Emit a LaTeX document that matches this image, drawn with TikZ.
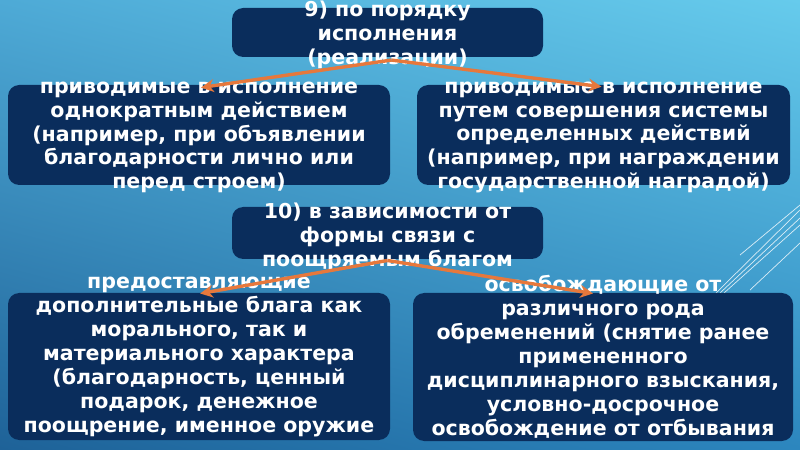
\documentclass[tikz,border=0pt]{standalone}
\usepackage{fontspec}
\setmainfont{DejaVu Sans}
\usepackage{tikz}
\usetikzlibrary{arrows.meta, positioning, calc, shadings}
\usepackage{xcolor}
\definecolor{bgtl}{RGB}{78,170,214}
\definecolor{bgtr}{RGB}{102,203,236}
\definecolor{bgbl}{RGB}{30,98,152}
\definecolor{bgbr}{RGB}{44,134,190}
\definecolor{boxcolor}{RGB}{10,45,92}
\definecolor{arrowcolor}{RGB}{230,120,60}
\tikzset{
    box/.style={
        rectangle, fill=boxcolor, rounded corners=8pt, inner sep=0pt
    },
    boxtext/.style={
        align=center, text=white, inner sep=0pt,
        font=\bfseries\fontsize{14.6}{17}\selectfont
    },
    arrow/.style={-{Stealth[length=3.2mm, width=3.2mm]}, line width=2.4pt, arrowcolor},
    deco/.style={white, opacity=0.8, line width=0.5pt}
}

\begin{document}
\begin{tikzpicture}

% Background
\useasboundingbox (0,0) rectangle (20,11.225);
\shade[upper left=bgtl, upper right=bgtr, lower left=bgbl, lower right=bgbr]
    (0,0) rectangle (20,11.225);

% Decorative lines
\draw[deco] (18.5,4.85) -- (20,6.1);
\draw[deco] (17.9,3.9) -- (20,5.975);
\draw[deco] (18.0,3.9) -- (20,5.775);
\draw[deco] (18.1,3.9) -- (20,5.6);
\draw[deco] (18.75,3.975) -- (20,5.15);

% Boxes
\node[box, minimum width=7.775cm, minimum height=1.225cm] (kind9) at (9.6875,10.4125) {};
\node[box, minimum width=9.55cm, minimum height=2.5cm] (once) at (4.975,7.85) {};
\node[box, minimum width=9.325cm, minimum height=2.5cm] (system) at (15.0875,7.85) {};
\node[box, minimum width=7.775cm, minimum height=1.3cm] (kind10) at (9.6875,5.4) {};
\node[box, minimum width=9.55cm, minimum height=3.675cm] (extra) at (4.975,2.0625) {};
\node[box, minimum width=9.5cm, minimum height=3.7cm] (relief) at (15.075,2.05) {};

% Texts
\node[boxtext] (kind9text) at ($(kind9.center)+(0,-0.06)$) {9) по порядку\\исполнения\\(реализации)};
\node[boxtext] (oncetext) at ($(once.center)+(0,-0.06)$) {приводимые в исполнение\\однократным действием\\(например, при объявлении\\благодарности лично или\\перед строем)};
\node[boxtext] (systemtext) at ($(system.center)+(0,-0.06)$) {приводимые в исполнение\\путем совершения системы\\определенных действий\\(например, при награждении\\государственной наградой)};
\node[boxtext] (kind10text) at ($(kind10.center)+(0,-0.1)$) {10) в зависимости от\\формы связи с\\поощряемым благом};
\node[boxtext] (extratext) at ($(extra.center)+(0,0.24)$) {предоставляющие\\дополнительные блага как\\морального, так и\\материального характера\\(благодарность, ценный\\подарок, денежное\\поощрение, именное оружие};
\node[boxtext] (relieftext) at ($(relief.center)+(0,0.26)$) {освобождающие от\\различного рода\\обременений (снятие ранее\\примененного\\дисциплинарного взыскания,\\условно-досрочное\\освобождение от отбывания};

% Arrows
\coordinate (split9) at ($(kind9.south)+(0.1,-0.07)$);
\coordinate (split10) at ($(kind10.south)+(0,-0.03)$);
\draw[arrow] (split9) -- ($(once.north)+(0.05,-0.07)$);
\draw[arrow] (split9) -- ($(system.north)+(-0.05,-0.05)$);
\draw[arrow] (split10) -- ($(extra.north)+(0.03,-0.02)$);
\draw[arrow] (split10) -- ($(relief.north)+(-0.25,-0.02)$);

\end{tikzpicture}
\end{document}
